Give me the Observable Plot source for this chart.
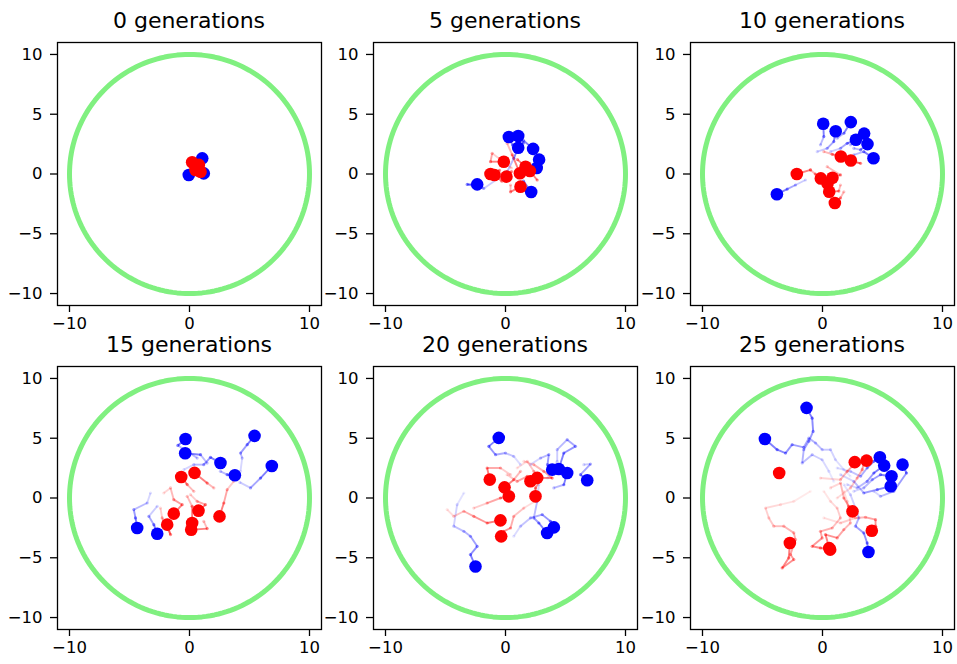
<!DOCTYPE html>
<html><head><meta charset="utf-8">
<script src="https://cdn.jsdelivr.net/npm/d3@7"></script>
<script src="https://cdn.jsdelivr.net/npm/@observablehq/plot@0.6"></script>
<style>
body{margin:0;background:#fff;}
#fig{position:relative;width:957px;height:664px;background:#fff;font-family:"DejaVu Sans",sans-serif;overflow:hidden;}
.ttl{position:absolute;width:264px;text-align:center;font-size:22px;line-height:22px;color:#000;white-space:nowrap;}
.pn{position:absolute;}
</style></head><body><div id="fig"></div>
<script>
// ---- data ----
const generations = [0, 5, 10, 15, 20, 25];
const xTicks = [-10, 0, 10];
const yTicks = [-10, -5, 0, 5, 10];
const boundaryRadius = 10;
const axisLimit = 11;

// generation 0
const blue0 = [[-0.06,-0.08],[1.06,1.31],[1.19,0.05],[0.6,0.6]];
const red0 = [[0.22,0.98],[0.78,0.76],[0.92,0.19],[0.5,0.34]];
const blueTrails0 = [[],[],[],[]];
const redTrails0 = [[],[],[],[]];

// generation 5
const blue5 = [[0.28,3.1],[1.06,3.18],[1.06,2.2],[2.3,2.1],[2.8,1.2],[2.6,0.5],[2.14,-1.5],[-2.36,-0.87]];
const red5 = [[-0.14,1.03],[-1.25,0],[-0.92,-0.08],[0.08,-0.22],[1.2,0.06],[1.67,0.6],[2.03,0.25],[1.25,-1.06]];
const blueTrails5 = [[[0.6,2.4]],[[1.5,2.6]],[[0.14,0.19],[0.69,1.31]],[[1.5,2.8]],[[2.2,0.6]],[[1.6,0.3]],[[1.5,-0.6]],[[-0.5,-0.3],[-1.81,-1.21],[-3.19,-0.87]]];
const redTrails5 = [[[0.5,0.5],[-1.11,1.73],[-1.25,1.03]],[[-0.5,0.3]],[[-0.3,-0.6]],[[0.5,0.2]],[[0.14,2.57],[0.56,1.6]],[[1.0,1.2]],[[2.64,-0.5]],[[0.42,-0.92],[0.42,-1.49]]];

// generation 10
const blue10 = [[0.06,4.2],[1.1,3.58],[2.36,4.34],[2.78,2.87],[3.47,3.38],[3.75,2.5],[4.25,1.32],[-3.8,-1.69]];
const red10 = [[-2.14,0],[-0.14,-0.37],[0.83,-0.31],[0.42,-0.79],[0.56,-1.49],[1.03,-2.42],[1.53,1.46],[2.36,1.13]];
const blueTrails10 = [[[-0.17,2.44],[0.11,3.13]],[[-0.44,1.87],[0.39,2.15],[0.94,2.71]],[[1.22,2.99],[1.78,3.41]],[[0.67,1.87],[1.5,2.15],[2.06,2.57]],[[2.33,2.44],[2.89,3.13]],[[2.61,2.15],[3.17,2.02]],[[2.61,1.6],[3.44,1.87]],[[-1.42,-0.5],[-2.25,-0.92],[-2.94,-1.26]]];
const redTrails10 = [[[-1.0,0.34]],[[-1.0,0.34],[-0.6,0]],[[0.39,0.61],[1.5,-0.08]],[[-0.17,-0.1],[0.2,-0.5]],[[1.5,-0.92],[1.36,-1.43]],[[1.78,-1.49],[1.5,-2.0]],[[0.11,1.87],[0.81,1.65]],[[1.78,1.18],[3.17,0.89]]];

// generation 15
const blue15 = [[-0.33,4.94],[-0.36,3.74],[5.42,5.2],[6.86,2.68],[2.58,2.93],[3.78,1.9],[-4.36,-2.51],[-2.69,-2.99]];
const red15 = [[-0.69,1.76],[0.42,2.1],[-1.31,-1.31],[-1.86,-2.23],[0.75,-1.06],[2.5,-1.54],[0.22,-2.09],[0.14,-2.65]];
const blueTrails15 = [[[0.64,3.34],[-0.97,4.4]],[[1.47,2.92],[0.92,3.62]],[[4.25,2.23],[4.39,3.34],[4.25,3.76],[4.81,4.46]],[[4.2,1.3],[5.08,0.84],[5.92,1.67]],[[-0.47,2.37],[0.36,2.79],[1.19,2.79],[1.75,3.4]],[[2.58,2.23],[3.14,1.95]],[[-3.25,0.42],[-3.53,-0.42],[-4.64,-0.97],[-4.5,-1.67]],[[-2.69,-0.69],[-3.39,-1.53],[-2.97,-2.23]]];
const redTrails15 = [[[0.36,0.56],[-0.19,1.12]],[[2.03,0.84],[1.47,1.25]],[[-2.14,0.42],[-1.58,0.84],[-1.31,-0.14],[-0.61,-0.56]],[[-2.42,-0.84],[-2.28,-1.67],[-1.58,-3.06]],[[0.08,0.28],[0.64,-0.28],[1.33,-0.56]],[[3.69,1.39],[3.14,0.7],[2.86,-0.42]],[[-0.19,0.14],[0.22,-0.69]],[[1.19,-1.95],[1.47,-2.56]]];

// generation 20
const blue20 = [[-0.56,5.03],[3.89,2.37],[4.44,2.43],[5.14,2.09],[6.81,1.48],[3.47,-2.93],[4.03,-2.46],[-2.5,-5.73]];
const red20 = [[-1.31,1.54],[-0.08,0.89],[0.28,0.14],[2.5,0.14],[2.08,1.4],[2.64,1.68],[-0.42,-1.87],[-0.36,-3.21]];
const blueTrails20 = [[[1.25,2.79],[0.69,3.48],[0,3.76],[-0.83,3.62],[-1.39,4.32]],[[2.08,2.79],[2.92,3.34],[3.61,3.62],[3.5,2.79]],[[3.5,1.67],[4.31,3.07],[4.31,4.04],[5.14,4.88],[5.83,4.32],[4.86,3.76]],[[4.03,0.84],[4.86,1.11]],[[6.53,2.79],[7.08,2.84],[6.25,1.95]],[[2.78,1.12],[2.64,-0.28],[2.36,-1.67],[2.78,-2.09]],[[0.69,-3.2],[1.25,-2.36],[2.08,-1.67],[3.06,-1.39],[3.75,-1.95]],[[-3.47,0.42],[-4.03,-0.56],[-4.31,-2.36],[-3.47,-2.79],[-2.92,-3.2],[-2.36,-4.04],[-2.92,-4.73]]];
const redTrails20 = [[[0.42,1.95],[-0.42,2.51],[-1.53,2.51]],[[1.25,2.23],[0.69,1.53]],[[-2.64,-0.84],[-1.53,-0.42],[-0.42,0]],[[0.97,2.51],[1.81,3.07],[2.36,2.23],[2.92,1.53],[2.5,0.84]],[[0.14,1.95],[0.97,1.39],[1.81,1.81]],[[1.53,3.07],[2.36,2.79],[3.19,2.23],[3.89,1.67]],[[-4.86,-0.97],[-4.31,-1.53],[-3.47,-1.11],[-2.64,-1.53],[-1.53,-2.09]],[[2.92,0],[1.53,-0.84],[0.69,-1.53],[0.42,-2.51],[-0.14,-2.79]]];

// generation 25
const blue25 = [[-1.33,7.54],[-4.8,4.94],[4.78,3.41],[5.14,2.71],[6.67,2.79],[5.75,1.82],[5.69,0.98],[3.83,-4.52]];
const red25 = [[-3.61,2.09],[2.69,3.0],[3.67,3.13],[2.5,-1.12],[4.11,-2.74],[-2.72,-3.77],[0.64,-4.32],[0.56,-4.19]];
const blueTrails25 = [[[0.94,1.39],[0.53,2.23],[-0.03,3.2],[-0.86,3.62],[-1.69,2.93],[-1.56,4.04],[-1.14,4.74],[-0.78,5.57],[-0.86,6.68]],[[2.33,1.81],[1.78,2.37],[1.08,3.2],[0.67,4.04],[-0.03,4.04],[-0.58,4.6],[-1.14,5.01],[-1.56,4.24],[-2.53,4.46],[-3.08,3.76],[-3.78,4.04]],[[1.22,2.51],[2.33,2.23],[3.17,1.81],[3.72,2.51],[4.28,3.07]],[[2.06,1.12],[2.89,0.84],[3.72,1.39],[4.28,2.09]],[[4.28,0.56],[4.83,0.14],[5.94,0.56],[7.0,2.09]],[[2.61,0.56],[3.44,0.84],[4.14,1.53],[4.83,1.95]],[[1.5,1.95],[2.61,1.39],[3.44,0.42],[4.56,0.7]],[[1.78,1.12],[2.33,0.28],[2.75,-0.84],[3.03,-1.67],[2.75,-2.36],[3.44,-2.92],[3.72,-3.76]]];
const redTrails25 = [[],[[-0.17,1.67],[1.5,1.53],[2.06,2.23],[2.47,2.65]],[[1.22,0],[2.33,0.84],[2.89,1.67],[3.31,2.37],[3.58,3.48]],[[0.67,0.84],[1.5,1.25],[1.78,0],[2.19,-0.69]],[[0.11,-1.67],[1.5,-2.09],[2.75,-1.67],[3.58,-1.61],[4.42,-1.81],[4.42,-2.36]],[[-1.0,0.56],[-2.39,-0.28],[-3.5,-0.56],[-4.75,-0.84],[-4.47,-1.67],[-4.06,-2.36],[-3.22,-2.36],[-2.39,-2.92],[-2.25,-3.48],[-2.67,-4.73],[-2.39,-5.15],[-3.36,-5.85],[-2.81,-5.01]],[[0.11,0.56],[0.67,-0.28],[1.22,-0.84],[1.5,-1.67],[0.81,-2.51],[-0.17,-2.79],[-0.03,-3.34],[-0.86,-4.04],[-0.17,-4.18]],[[1.78,0.56],[2.06,-0.28],[2.33,-2.09],[1.78,-2.64],[1.22,-3.34],[0.25,-3.06]]];

// ---- assembly ----
const bluePoints = [blue0, blue5, blue10, blue15, blue20, blue25];
const redPoints = [red0, red5, red10, red15, red20, red25];
const blueTrails = [blueTrails0, blueTrails5, blueTrails10, blueTrails15, blueTrails20, blueTrails25];
const redTrails = [redTrails0, redTrails5, redTrails10, redTrails15, redTrails20, redTrails25];

const BLUE = "#0000ff", RED = "#ff0000", GREEN = "#80f080";
const colLeft = [57, 373, 690];
const rowTop = [42, 366];
const boxW = 264, boxH = 263;
const mL = 50, mR = 2, mT = 4, mB = 38;

const circle = d3.range(0, 360, 2).map(a => [boundaryRadius * Math.cos(a * Math.PI / 180), boundaryRadius * Math.sin(a * Math.PI / 180)]);

function buildTrails(points, trails) {
  const segs = [], verts = [];
  points.forEach((p, k) => {
    const path = (trails[k] || []).concat([p]);
    const n = path.length - 1;
    for (let i = 0; i < n; i++) {
      const o = 0.05 + 0.45 * (i + 1) / n;
      segs.push({x1: path[i][0], y1: path[i][1], x2: path[i + 1][0], y2: path[i + 1][1], o});
      verts.push({x: path[i][0], y: path[i][1], o: Math.max(0.04, o - 0.05)});
    }
  });
  return {segs, verts};
}

const fig = document.getElementById("fig");
generations.forEach((g, i) => {
  const col = i % 3, row = Math.floor(i / 3);
  const left = colLeft[col], top = rowTop[row];
  const bt = buildTrails(bluePoints[i], blueTrails[i]);
  const rt = buildTrails(redPoints[i], redTrails[i]);
  const chart = Plot.plot({
    width: boxW + mL + mR, height: boxH + mT + mB,
    marginLeft: mL, marginRight: mR, marginTop: mT, marginBottom: mB,
    x: {domain: [-axisLimit, axisLimit], axis: null},
    y: {domain: [-axisLimit, axisLimit], axis: null},
    opacity: {type: "identity"},
    style: {fontFamily: "DejaVu Sans", fontSize: "16.5px", color: "#000", background: "transparent", overflow: "visible"},
    marks: [
      Plot.line(circle, {x: d => d[0], y: d => d[1], stroke: GREEN, strokeWidth: 5, curve: "linear-closed"}),
      Plot.link(bt.segs, {x1: "x1", y1: "y1", x2: "x2", y2: "y2", stroke: BLUE, strokeOpacity: "o", strokeWidth: 1.9}),
      Plot.dot(bt.verts, {x: "x", y: "y", r: 1.6, fill: BLUE, fillOpacity: "o"}),
      Plot.link(rt.segs, {x1: "x1", y1: "y1", x2: "x2", y2: "y2", stroke: RED, strokeOpacity: "o", strokeWidth: 1.9}),
      Plot.dot(rt.verts, {x: "x", y: "y", r: 1.6, fill: RED, fillOpacity: "o"}),
      Plot.dot(bluePoints[i], {x: d => d[0], y: d => d[1], r: 6.3, fill: BLUE}),
      Plot.dot(redPoints[i], {x: d => d[0], y: d => d[1], r: 6.3, fill: RED}),
      Plot.frame({stroke: "#000", strokeWidth: 1.3}),
      Plot.axisX({ticks: xTicks, tickSize: 7, tickPadding: 5, label: null, strokeWidth: 1.3, fontSize: 16.5, fill: "#000"}),
      Plot.axisY({ticks: yTicks, tickSize: 7, tickPadding: 8, label: null, strokeWidth: 1.3, fontSize: 16.5, fill: "#000"})
    ]
  });
  chart.classList.add("pn");
  chart.style.left = (left - mL) + "px";
  chart.style.top = (top - mT) + "px";
  fig.appendChild(chart);
  const t = document.createElement("div");
  t.className = "ttl";
  t.textContent = g + " generations";
  t.style.left = left + "px";
  t.style.top = (top - 13.5 - 18.6) + "px";
  fig.appendChild(t);
});
</script></body></html>
